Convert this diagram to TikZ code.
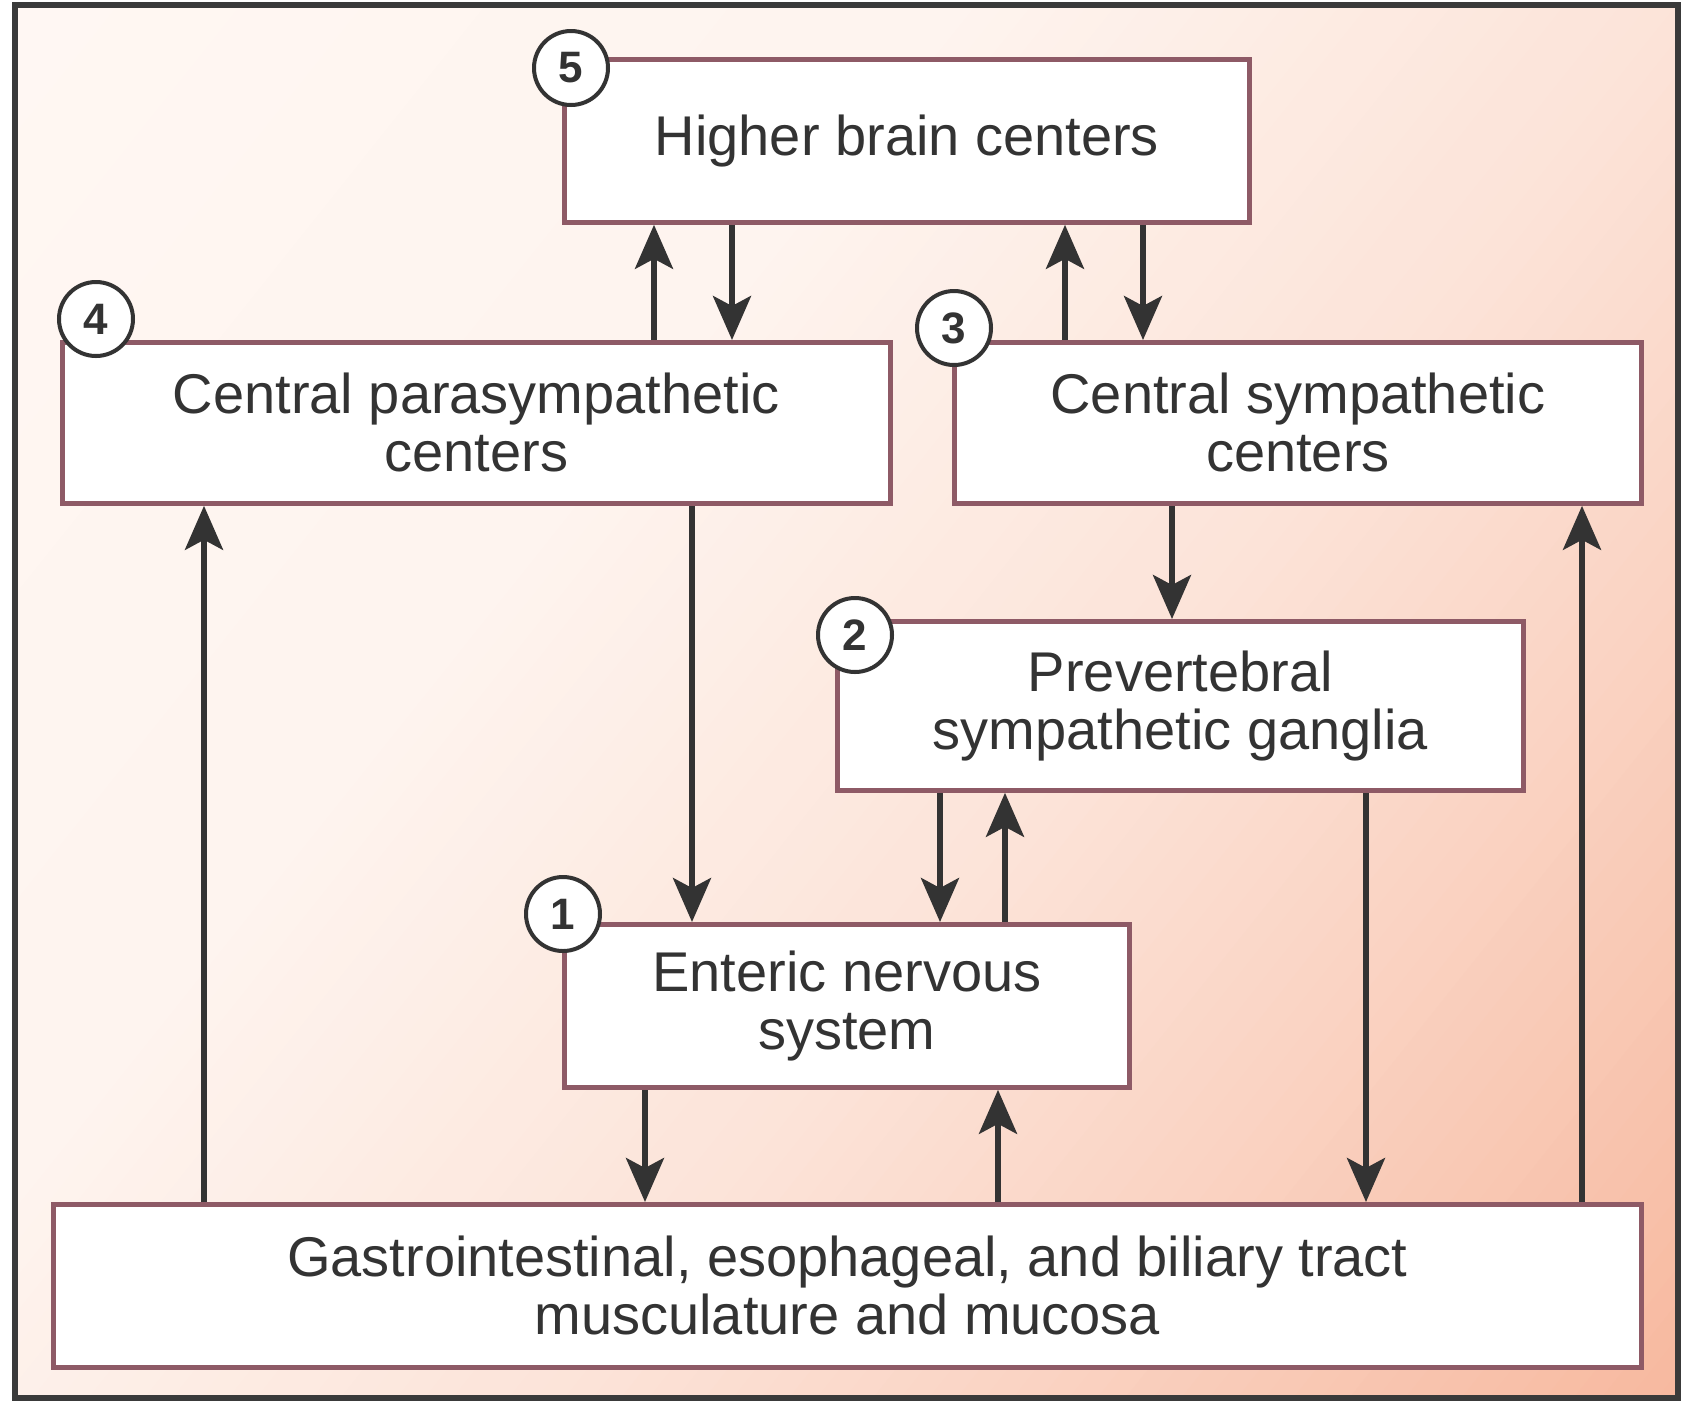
\documentclass[tikz,border=0pt]{standalone}
\usepackage{fontspec}
\setmainfont{Liberation Sans}
\usetikzlibrary{arrows.meta,calc}
\definecolor{sA}{HTML}{FFF7F3}
\definecolor{sB}{HTML}{FEF3EE}
\definecolor{sC}{HTML}{FDEDE5}
\definecolor{sD}{HTML}{FCE3D8}
\definecolor{sE}{HTML}{FAD4C4}
\definecolor{sF}{HTML}{F7B89E}
\definecolor{boxline}{HTML}{8E5A66}
\definecolor{ink}{HTML}{333333}
\definecolor{framec}{HTML}{3A3A3A}
\tikzset{
  box/.style={draw=boxline, line width=2.4pt, fill=white, anchor=north west,
    inner sep=0pt, align=center, text=ink,
    font=\fontsize{28}{29}\selectfont},
  numc/.style={circle, draw=ink, line width=2pt, fill=white, minimum size=37pt,
    inner sep=0pt, text=ink, font=\fontsize{22}{22}\selectfont\bfseries},
  arr/.style={draw=ink, line width=2.8pt,
    -{Stealth[length=22pt, width=19pt, inset=5pt]}}
}
\begin{document}
\begin{tikzpicture}[x=0.5pt,y=-0.5pt]
\useasboundingbox (0,0) rectangle (1681,1404);
\begin{scope}
\clip (15,5) rectangle (1678,1398);
\foreach \ta/\tb/\ca/\cb/\nn in {0/0.35/sA/sB/8, 0.35/0.45/sB/sC/10, 0.45/0.6/sC/sD/15, 0.6/0.75/sD/sE/15, 0.75/1.0/sE/sF/25}{
  \foreach \k in {0,...,\nn}{
    \pgfmathsetmacro\tt{\ta+(\tb-\ta)*\k/\nn}
    \pgfmathtruncatemacro\pc{100-100*\k/\nn}
    \colorlet{stripc}{\ca!\pc!\cb}
    \pgfmathsetmacro\xa{\tt*2801.7+0.7982*100}
    \pgfmathsetmacro\xb{\tt*2801.7-0.7982*1600}
    \fill[stripc] (\xa,-100) -- (3000,-100) -- (3000,1600) -- (\xb,1600) -- cycle;
  }
}
\end{scope}
\draw[framec, line width=3pt] (15,5) rectangle (1678,1398);

\node[box, minimum width=342.5pt, minimum height=81.5pt] (B5) at (562,57) {Higher brain centers};
\node[box, minimum width=414pt, minimum height=80.5pt] (B4) at (60,340) {Central parasympathetic\\centers};
\node[box, minimum width=343.5pt, minimum height=80.5pt] (B3) at (952,340) {Central sympathetic\\centers};
\node[box, minimum width=343pt, minimum height=84.5pt] (B2) at (835,619) {Prevertebral\\sympathetic ganglia};
\node[box, minimum width=282.5pt, minimum height=81.5pt] (B1) at (562,922) {Enteric nervous\\system};
\node[box, minimum width=794pt, minimum height=81.5pt] (B0) at (51,1202) {Gastrointestinal, esophageal, and biliary tract\\musculature and mucosa};

\node[numc] (n5) at (571,68) {5};
\node[numc] (n4) at (96,319) {4};
\node[numc] (n3) at (954,328) {3};
\node[numc] (n2) at (855,635) {2};
\node[numc] (n1) at (563,914) {1};

\coordinate (x654) at (654,0);
\coordinate (x732) at (732,0);
\coordinate (x1065) at (1065,0);
\coordinate (x1143) at (1143,0);
\coordinate (x692) at (692,0);
\coordinate (x204) at (204,0);
\coordinate (x1582) at (1582,0);
\coordinate (x1172) at (1172,0);
\coordinate (x940) at (940,0);
\coordinate (x1005) at (1005,0);
\coordinate (x1366) at (1366,0);
\coordinate (x645) at (645,0);
\coordinate (x998) at (998,0);

\draw[arr] (B4.north -| x654) -- (B5.south -| x654);
\draw[arr] (B5.south -| x732) -- (B4.north -| x732);
\draw[arr] (B3.north -| x1065) -- (B5.south -| x1065);
\draw[arr] (B5.south -| x1143) -- (B3.north -| x1143);
\draw[arr] (B4.south -| x692) -- (B1.north -| x692);
\draw[arr] (B0.north -| x204) -- (B4.south -| x204);
\draw[arr] (B0.north -| x1582) -- (B3.south -| x1582);
\draw[arr] (B3.south -| x1172) -- (B2.north -| x1172);
\draw[arr] (B2.south -| x940) -- (B1.north -| x940);
\draw[arr] (B1.north -| x1005) -- (B2.south -| x1005);
\draw[arr] (B2.south -| x1366) -- (B0.north -| x1366);
\draw[arr] (B1.south -| x645) -- (B0.north -| x645);
\draw[arr] (B0.north -| x998) -- (B1.south -| x998);
\end{tikzpicture}
\end{document}
